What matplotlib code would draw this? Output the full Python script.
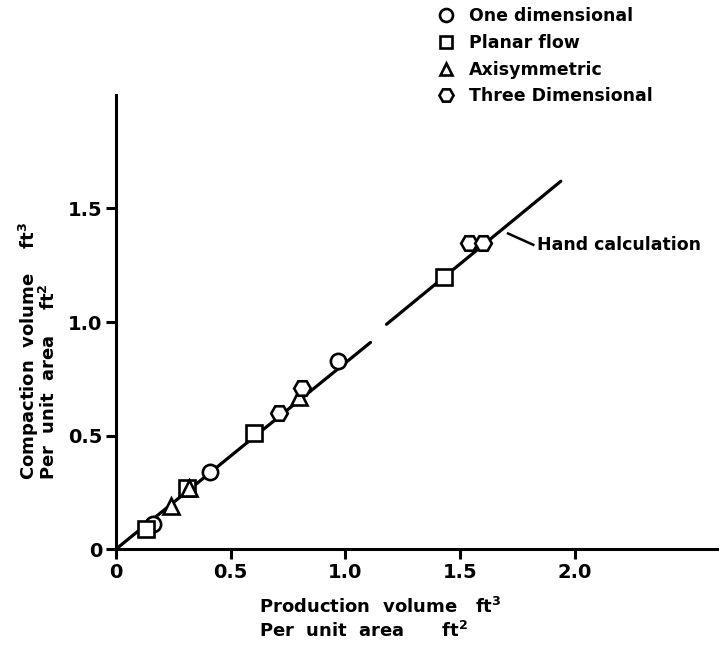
import numpy as np
import matplotlib
matplotlib.use("Agg")
from matplotlib import pyplot as plt

# ---------------------------------------------------------------------------
# Data
# ---------------------------------------------------------------------------
one_dim_x = [0.16, 0.41, 0.97]
one_dim_y = [0.11, 0.34, 0.83]

planar_x = [0.13, 0.31, 0.60, 1.43]
planar_y = [0.09, 0.27, 0.51, 1.20]

axisym_x = [0.24, 0.32, 0.80]
axisym_y = [0.19, 0.27, 0.67]

three_dim_x = [0.71, 0.81, 1.54, 1.60]
three_dim_y = [0.60, 0.71, 1.35, 1.35]

# hand calculation line, drawn in two pieces (gap in the original)
hand_x1 = [0.0, 1.11]
hand_y1 = [0.0, 0.91]
hand_x2 = [1.18, 1.94]
hand_y2 = [0.99, 1.62]

xticks = [0, 0.5, 1.0, 1.5, 2.0]
xticklabels = ["0", "0.5", "1.0", "1.5", "2.0"]
yticks = [0, 0.5, 1.0, 1.5]
yticklabels = ["0", "0.5", "1.0", "1.5"]

# ---------------------------------------------------------------------------
plt.rcParams["font.family"] = "DejaVu Sans"
plt.rcParams["font.weight"] = "bold"

fig = plt.figure(figsize=(7.19, 6.46), dpi=100)
ax = fig.add_axes([0.1613, 0.150, 0.8387, 0.703])

ax.plot(hand_x1, hand_y1, color="black", lw=2.3, solid_capstyle="round", zorder=2)
ax.plot(hand_x2, hand_y2, color="black", lw=2.3, solid_capstyle="round", zorder=2)

mk = dict(linestyle="none", mfc="white", mec="black", mew=1.9, zorder=3)
h1, = ax.plot(one_dim_x, one_dim_y, marker="o", ms=11, label="One dimensional", **mk)
h2, = ax.plot(planar_x, planar_y, marker="s", ms=11, label="Planar flow", **mk)
h3, = ax.plot(axisym_x, axisym_y, marker="^", ms=11, label="Axisymmetric", **mk)
h4, = ax.plot(three_dim_x, three_dim_y, marker="H", ms=12, label="Three Dimensional", **mk)

# leader line + label for the hand calculation line
ax.plot([1.71, 1.82], [1.39, 1.34], color="black", lw=1.8)
ax.text(1.835, 1.34, "Hand calculation", fontsize=12.5, fontweight="bold",
        va="center", ha="left")

ax.set_xlim(0, 2.63)
ax.set_ylim(0, 2.0)

ax.spines["top"].set_visible(False)
ax.spines["right"].set_visible(False)
ax.spines["left"].set_linewidth(2.2)
ax.spines["bottom"].set_linewidth(2.2)

ax.set_xticks(xticks)
ax.set_xticklabels(xticklabels)
ax.set_yticks(yticks)
ax.set_yticklabels(yticklabels)
ax.tick_params(axis="both", direction="out", length=7, width=2.2,
               labelsize=14, pad=3)
for lab in ax.get_xticklabels() + ax.get_yticklabels():
    lab.set_fontweight("bold")

fig.text(0.360, 0.060, "Production  volume   ft$^\\mathbf{3}$",
         fontsize=13, fontweight="bold", ha="left", va="center")
fig.text(0.360, 0.024, "Per  unit  area      ft$^\\mathbf{2}$",
         fontsize=13, fontweight="bold", ha="left", va="center")
fig.text(0.040, 0.257, "Compaction  volume    ft$^\\mathbf{3}$", rotation=90,
         fontsize=13, fontweight="bold", ha="center", va="bottom")
fig.text(0.068, 0.257, "Per  unit  area    ft$^\\mathbf{2}$", rotation=90,
         fontsize=13, fontweight="bold", ha="center", va="bottom")

fig.legend(handles=[h1, h2, h3, h4], loc="upper left",
           bbox_to_anchor=(0.587, 1.013), frameon=False,
           prop=dict(size=12.5, weight="bold"), handlelength=1.0,
           handletextpad=0.8, labelspacing=0.5, markerscale=0.85)

fig.savefig("out.png", dpi=100)
